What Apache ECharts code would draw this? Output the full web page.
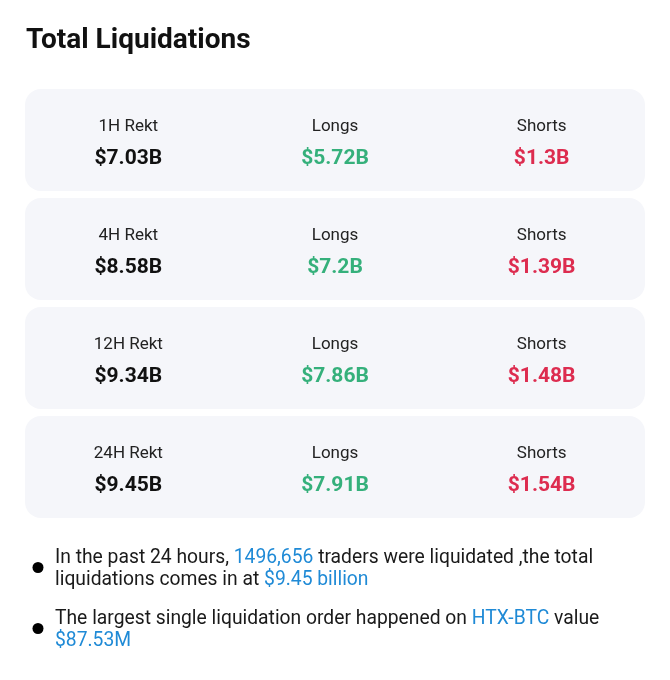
<!DOCTYPE html>
<html>
<head>
<meta charset="utf-8">
<script src="https://cdn.jsdelivr.net/npm/echarts@6/dist/echarts.min.js"></script>
<style>
html,body{margin:0;padding:0;background:#fff;}
#chart{width:670px;height:680px;}
</style>
</head>
<body>
<div id="chart"></div>
<script>
const titleText = 'Total Liquidations';
const periods = ['1H Rekt', '4H Rekt', '12H Rekt', '24H Rekt'];
const columnHeaders = ['Longs', 'Shorts'];
const totals = [7.03, 8.58, 9.34, 9.45];
const longs = [5.72, 7.2, 7.86, 7.91];
const shorts = [1.3, 1.39, 1.48, 1.54];
const tradersLiquidated = '1496,656';
const totalLiquidationText = '$9.45 billion';
const largestExchange = 'HTX-BTC';
const largestValue = '$87.53M';

const FONT = 'Roboto, "Noto Sans", sans-serif';
const GREEN = '#35b07b';
const RED = '#dd2c4f';
const BLUE = '#1f8ad6';
const fmt = v => '$' + v + 'B';

const chart = echarts.init(document.getElementById('chart'), null, {renderer: 'canvas'});

const rowData = periods.map((p, i) => [i, totals[i], longs[i], shorts[i]]);

function renderItem(params, api) {
  const i = api.value(0);
  const cs = params.coordSys;
  const bandH = api.size([0, 1])[1];
  const cy = api.coord([0, i])[1];
  const cardH = bandH - 7;
  const cols = [
    {x: api.coord([0.5, i])[0], label: periods[i], value: fmt(api.value(1)), color: '#111'},
    {x: api.coord([1.5, i])[0], label: columnHeaders[0], value: fmt(api.value(2)), color: GREEN},
    {x: api.coord([2.5, i])[0], label: columnHeaders[1], value: fmt(api.value(3)), color: RED}
  ];
  const children = [{
    type: 'rect',
    shape: {x: cs.x, y: cy - cardH / 2, width: cs.width, height: cardH, r: 16},
    style: {fill: '#f5f6fa'}
  }];
  cols.forEach(c => {
    children.push({
      type: 'text',
      style: {x: c.x, y: cy - 13, text: c.label, fill: '#222', font: '17px ' + FONT, align: 'center', verticalAlign: 'middle'}
    });
    children.push({
      type: 'text',
      style: {x: c.x, y: cy + 19, text: c.value, fill: c.color, font: 'bold 21px ' + FONT, align: 'center', verticalAlign: 'middle'}
    });
  });
  return {type: 'group', children: children};
}

const rich = {
  n: {font: '19.3px ' + FONT, fill: '#1a1a1a', lineHeight: 22},
  b: {font: '19.3px ' + FONT, fill: BLUE, lineHeight: 22}
};

chart.setOption({
  backgroundColor: '#ffffff',
  animation: false,
  title: {
    text: titleText,
    left: 26,
    top: 27,
    padding: 0,
    textStyle: {fontFamily: FONT, fontSize: 28, fontWeight: 'bold', color: '#111'}
  },
  grid: {left: 25, right: 25, top: 85.5, height: 436},
  xAxis: {type: 'value', min: 0, max: 3, show: false},
  yAxis: {type: 'category', data: periods, inverse: true, show: false},
  series: [{
    type: 'custom',
    renderItem: renderItem,
    data: rowData,
    encode: {x: -1, y: 0},
    silent: true
  }],
  graphic: [
    {type: 'circle', shape: {cx: 38, cy: 567.5, r: 5.5}, style: {fill: '#000'}},
    {type: 'text', left: 55, top: 549, style: {
      text: '{n|In the past 24 hours, }{b|' + tradersLiquidated + '}{n| traders were liquidated ,the total}\n{n|liquidations comes in at }{b|' + totalLiquidationText + '}',
      rich: rich
    }},
    {type: 'circle', shape: {cx: 38, cy: 628.5, r: 5.5}, style: {fill: '#000'}},
    {type: 'text', left: 55, top: 610, style: {
      text: '{n|The largest single liquidation order happened on }{b|' + largestExchange + '}{n| value}\n{b|' + largestValue + '}',
      rich: rich
    }}
  ]
});
</script>
</body>
</html>
